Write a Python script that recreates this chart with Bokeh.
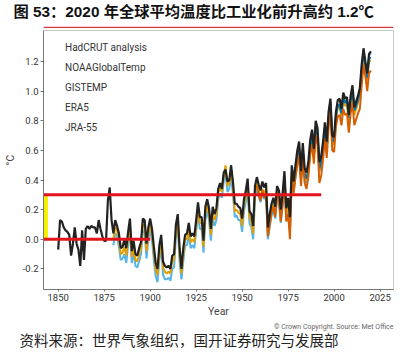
from bokeh.plotting import figure
from bokeh.layouts import column
from bokeh.models import Range1d, Legend, LegendItem, Title, FixedTicker, PrintfTickFormatter
from bokeh.embed import file_html
from bokeh.resources import INLINE

# ---------------- data (anomaly vs 1850-1900, degC) ----------------
years_hadcrut = list(range(1850, 2021))
hadcrut = [
    -0.07, 0.13, 0.12, 0.08, 0.06, 0.05, 0.03, -0.11, -0.03, 0.08,
    -0.03, -0.07, -0.18, 0.06, -0.14, 0.07, 0.09, 0.07, 0.09, 0.08,
    0.08, 0.04, 0.13, 0.07, 0.02, -0.01, -0.01, 0.26, 0.35, 0.13,
    0.04, 0.13, 0.09, 0.04, -0.06, -0.05, 0.00, -0.06, 0.05, 0.14,
    -0.08, -0.01, -0.10, -0.11, -0.06, -0.02, 0.14, 0.13, -0.03, 0.08,
    0.14, 0.07, -0.05, -0.16, -0.20, -0.04, 0.03, -0.15, -0.18, -0.19,
    -0.18, -0.20, -0.11, -0.10, 0.10, 0.17, -0.06, -0.20, -0.06, 0.03,
    0.04, 0.11, 0.02, 0.04, 0.02, 0.13, 0.25, 0.15, 0.15, -0.01,
    0.22, 0.27, 0.21, 0.07, 0.22, 0.17, 0.21, 0.34, 0.38, 0.34,
    0.45, 0.47, 0.39, 0.40, 0.50, 0.39, 0.24, 0.24, 0.22, 0.21,
    0.14, 0.27, 0.33, 0.41, 0.19, 0.17, 0.09, 0.36, 0.42, 0.37,
    0.33, 0.39, 0.35, 0.38, 0.08, 0.17, 0.24, 0.28, 0.22, 0.36,
    0.33, 0.20, 0.31, 0.46, 0.21, 0.28, 0.15, 0.50, 0.39, 0.50,
    0.60, 0.66, 0.46, 0.65, 0.48, 0.45, 0.52, 0.67, 0.74, 0.61,
    0.80, 0.75, 0.52, 0.56, 0.66, 0.79, 0.66, 0.86, 0.95, 0.70,
    0.69, 0.86, 0.94, 0.95, 0.88, 0.99, 0.95, 0.96, 0.84, 0.97,
    1.04, 0.89, 0.93, 0.97, 1.02, 1.18, 1.29, 1.20, 1.12, 1.25,
    1.27,
]

years_noaa = list(range(1880, 2021))
noaa = [
    0.00, 0.08, 0.06, 0.00, -0.10, -0.09, -0.05, -0.11, 0.00, 0.10,
    -0.12, -0.05, -0.14, -0.15, -0.10, -0.06, 0.10, 0.09, -0.08, 0.04,
    0.10, 0.03, -0.09, -0.20, -0.24, -0.10, -0.02, -0.19, -0.22, -0.23,
    -0.22, -0.23, -0.15, -0.14, 0.05, 0.13, -0.10, -0.23, -0.11, 0.00,
    0.00, 0.07, -0.02, 0.00, -0.02, 0.09, 0.21, 0.11, 0.11, -0.05,
    0.17, 0.23, 0.17, 0.03, 0.18, 0.13, 0.17, 0.31, 0.35, 0.32,
    0.43, 0.50, 0.36, 0.38, 0.47, 0.35, 0.19, 0.20, 0.18, 0.17,
    0.09, 0.23, 0.29, 0.37, 0.15, 0.12, 0.04, 0.32, 0.38, 0.33,
    0.28, 0.34, 0.31, 0.34, 0.04, 0.12, 0.20, 0.24, 0.18, 0.32,
    0.29, 0.15, 0.26, 0.42, 0.17, 0.23, 0.10, 0.45, 0.35, 0.45,
    0.55, 0.61, 0.42, 0.60, 0.43, 0.40, 0.47, 0.62, 0.69, 0.56,
    0.75, 0.70, 0.47, 0.51, 0.61, 0.74, 0.61, 0.81, 0.90, 0.65,
    0.64, 0.81, 0.89, 0.90, 0.83, 0.94, 0.90, 0.91, 0.79, 0.92,
    0.99, 0.84, 0.88, 0.92, 0.97, 1.13, 1.24, 1.15, 1.07, 1.20,
    1.21,
]

years_gistemp = list(range(1880, 2021))
gistemp = [
    -0.04, 0.04, 0.02, -0.05, -0.14, -0.13, -0.10, -0.16, -0.04, 0.06,
    -0.16, -0.09, -0.18, -0.19, -0.15, -0.10, 0.06, 0.05, -0.13, 0.00,
    0.06, -0.01, -0.14, -0.25, -0.29, -0.14, -0.06, -0.24, -0.27, -0.27,
    -0.26, -0.28, -0.20, -0.19, 0.02, 0.10, -0.15, -0.27, -0.15, -0.04,
    -0.04, 0.03, -0.06, -0.04, -0.06, 0.05, 0.17, 0.07, 0.07, -0.09,
    0.13, 0.19, 0.13, -0.01, 0.14, 0.09, 0.13, 0.27, 0.31, 0.28,
    0.39, 0.45, 0.32, 0.34, 0.42, 0.31, 0.15, 0.16, 0.13, 0.13,
    0.05, 0.19, 0.25, 0.33, 0.11, 0.08, 0.00, 0.28, 0.34, 0.29,
    0.25, 0.31, 0.27, 0.30, 0.00, 0.08, 0.16, 0.20, 0.14, 0.28,
    0.26, 0.11, 0.22, 0.38, 0.13, 0.19, 0.06, 0.42, 0.32, 0.42,
    0.52, 0.61, 0.40, 0.58, 0.41, 0.38, 0.45, 0.60, 0.67, 0.55,
    0.74, 0.70, 0.46, 0.48, 0.59, 0.74, 0.62, 0.80, 0.92, 0.68,
    0.66, 0.82, 0.90, 0.91, 0.84, 0.96, 0.92, 0.94, 0.81, 0.94,
    1.00, 0.88, 0.91, 0.94, 1.00, 1.15, 1.27, 1.18, 1.10, 1.24,
    1.26,
]

years_era5 = list(range(1979, 2021))
era5 = [
    0.47,
    0.55, 0.60, 0.42, 0.60, 0.44, 0.41, 0.48, 0.62, 0.70, 0.58,
    0.76, 0.71, 0.48, 0.52, 0.62, 0.75, 0.62, 0.82, 0.93, 0.67,
    0.66, 0.83, 0.90, 0.91, 0.85, 0.96, 0.92, 0.94, 0.82, 0.94,
    1.01, 0.87, 0.90, 0.94, 0.99, 1.14, 1.26, 1.18, 1.09, 1.22,
    1.23,
]

years_jra55 = list(range(1958, 2021))
jra55 = [
    0.36, 0.30,
    0.26, 0.33, 0.28, 0.31, 0.02, 0.10, 0.18, 0.22, 0.15, 0.29,
    0.27, 0.12, 0.24, 0.40, 0.12, 0.17, 0.00, 0.42, 0.31, 0.42,
    0.50, 0.57, 0.36, 0.55, 0.38, 0.34, 0.42, 0.57, 0.64, 0.51,
    0.70, 0.64, 0.38, 0.43, 0.54, 0.68, 0.55, 0.75, 0.88, 0.60,
    0.59, 0.76, 0.83, 0.84, 0.77, 0.88, 0.84, 0.85, 0.72, 0.85,
    0.92, 0.77, 0.81, 0.85, 0.88, 1.04, 1.18, 1.10, 1.00, 1.12,
    1.14,
]

series_names = ["HadCRUT analysis", "NOAAGlobalTemp", "GISTEMP", "ERA5", "JRA-55"]
x_ticks = [1850, 1875, 1900, 1925, 1950, 1975, 2000, 2025]
y_ticks = [-0.2, 0.0, 0.2, 0.4, 0.6, 0.8, 1.0, 1.2]

# reference levels drawn in red, and the span they cover
ref_levels = [0.3, 0.0]
ref_end_years = [1993, 1900]

title_text = "图 53：2020 年全球平均温度比工业化前升高约 1.2℃"
source_text = "资料来源：世界气象组织，国开证券研究与发展部"
credit_text = "© Crown Copyright. Source: Met Office"

# ---------------- styling ----------------
W = 398
LBL = "Roboto"
MIXED = "Liberation Sans, Noto Sans CJK SC"
RED = "#e2141c"
RULE = "#d8383c"
colors = {
    "HadCRUT analysis": "#222222",
    "NOAAGlobalTemp": "#E69F00",
    "GISTEMP": "#56B4E9",
    "ERA5": "#0072B2",
    "JRA-55": "#D55E00",
}

X0, X1 = 1842.0, 2032.3
Y0, Y1 = -0.339, 1.410


def strip(fig):
    fig.grid.visible = False
    fig.outline_line_color = None


# ---------------- header: title + red rule ----------------
h = figure(width=W, height=28, x_range=Range1d(0, 1), y_range=Range1d(0, 1),
           output_backend="svg", toolbar_location=None, min_border=0, title=None,
           x_axis_location=None, y_axis_location=None,
           border_fill_color="white", background_fill_color="white")
strip(h)
h.add_layout(Title(text=title_text, align="left", offset=-30, standoff=0,
                   text_font=MIXED, text_font_size="15.3px", text_font_style="bold",
                   text_color="#111111"), "above")
h.segment(x0=[0], y0=[0.12], x1=[1], y1=[0.12], line_color=RULE, line_width=1.2)

# ---------------- main chart ----------------
p = figure(width=W, height=292, x_range=Range1d(X0, X1), y_range=Range1d(Y0, Y1),
           output_backend="svg", toolbar_location=None, title=None,
           min_border_left=36, min_border_right=5, min_border_top=2, min_border_bottom=28)
p.grid.visible = False
p.outline_line_color = "#c8c8c8"
p.background_fill_color = "white"
p.border_fill_color = "white"

p.line(years_gistemp, gistemp, line_color=colors["GISTEMP"], line_width=2)
p.line(years_noaa, noaa, line_color=colors["NOAAGlobalTemp"], line_width=2)
p.line(years_era5, era5, line_color=colors["ERA5"], line_width=2)
p.line(years_jra55, jra55, line_color=colors["JRA-55"], line_width=2)
p.line(years_hadcrut, hadcrut, line_color=colors["HadCRUT analysis"], line_width=2.2)

# yellow marker bar between the two red levels
p.quad(left=[X0], right=[1844.4], bottom=[min(ref_levels)], top=[max(ref_levels)],
       fill_color="#f5f000", line_color=None)
p.segment(x0=[X0, X0], y0=ref_levels, x1=ref_end_years, y1=ref_levels,
          line_color=RED, line_width=3)

# legend via empty renderers (thick swatches)
items = []
for name in series_names:
    r = p.line(x=[], y=[], line_color=colors[name], line_width=4)
    items.append(LegendItem(label=name, renderers=[r]))
legend = Legend(items=items, location=(3, 152), orientation="vertical",
                glyph_width=16, glyph_height=20, label_height=20, spacing=0,
                padding=0, margin=0, label_standoff=3,
                label_text_font=LBL, label_text_font_size="10px",
                label_text_color="#333333",
                background_fill_alpha=0, border_line_color=None)
p.add_layout(legend)

# axes
p.xaxis.ticker = FixedTicker(ticks=x_ticks)
p.yaxis.ticker = FixedTicker(ticks=y_ticks)
p.yaxis.formatter = PrintfTickFormatter(format="%.1f")
for ax in (p.xaxis, p.yaxis):
    ax.axis_line_color = "#777777"
    ax.major_tick_line_color = "#777777"
    ax.minor_tick_line_color = None
    ax.major_tick_in = 0
    ax.major_label_text_font = LBL
    ax.major_label_text_font_size = "9.5px"
    ax.major_label_text_color = "#333333"
    ax.axis_label_text_font = LBL
    ax.axis_label_text_font_size = "10.5px"
    ax.axis_label_text_font_style = "normal"
    ax.axis_label_text_color = "#444444"
p.xaxis.major_tick_out = 2
p.yaxis.major_tick_out = 3
p.xaxis.major_label_standoff = 2
p.yaxis.major_label_standoff = 2
p.xaxis.axis_label = "Year"
p.yaxis.axis_label = "°C"
p.xaxis.axis_label_standoff = 1
p.yaxis.axis_label_standoff = 3

# ---------------- footer: credit, red rule, source ----------------
f = figure(width=W, height=28, x_range=Range1d(0, 1), y_range=Range1d(0, 1),
           output_backend="svg", toolbar_location=None, min_border=0, title=None,
           x_axis_location=None, y_axis_location=None,
           border_fill_color="white", background_fill_color="white")
strip(f)
f.add_layout(Title(text=credit_text, align="right", standoff=0, offset=0,
                   text_font=LBL, text_font_size="7px", text_font_style="normal",
                   text_color="#666666"), "above")
f.add_layout(Title(text=source_text, align="left", offset=-24, standoff=0,
                   text_font=MIXED, text_font_size="14.5px", text_font_style="normal",
                   text_color="#222222"), "below")
f.segment(x0=[0], y0=[0.5], x1=[1], y1=[0.5], line_color=RULE, line_width=1.2)

layout = column(h, p, f, spacing=0)
open("out.html", "w").write(file_html(layout, INLINE))
